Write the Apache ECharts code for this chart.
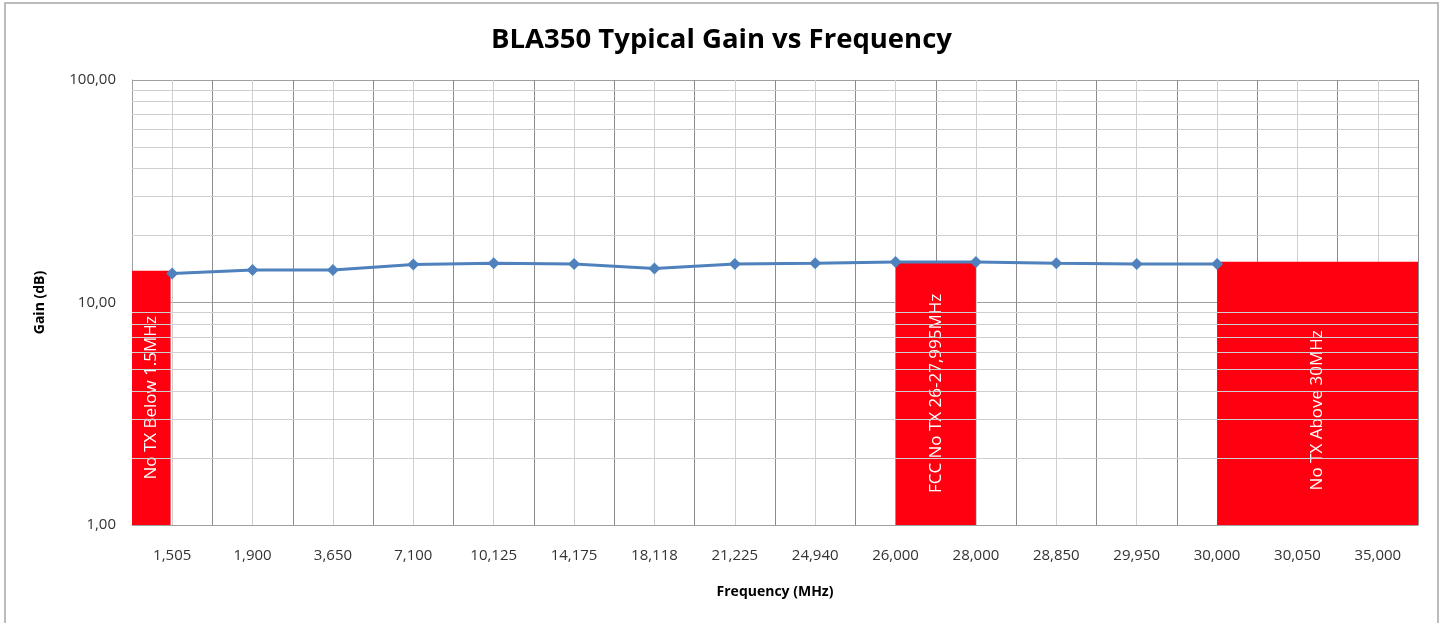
<!DOCTYPE html>
<html>
<head>
<meta charset="utf-8">
<script src="https://cdn.jsdelivr.net/npm/echarts@6/dist/echarts.min.js"></script>
<style>
html,body{margin:0;padding:0;background:#fff;}
#chart{width:1443px;height:623px;}
</style>
</head>
<body>
<div id="chart"></div>
<script>
// ---- data ----
const categories = ['1,505','1,900','3,650','7,100','10,125','14,175','18,118','21,225','24,940','26,000','28,000','28,850','29,950','30,000','30,050','35,000'];
const gainValues = [13.5, 14.0, 14.0, 14.8, 15.0, 14.9, 14.2, 14.9, 15.0, 15.2, 15.2, 15.0, 14.9, 14.9, null, null];
const yTickValues = [1, 10, 100];
const yTickLabels = ['1,00', '10,00', '100,00'];
const yMinorValues = [2,3,4,5,6,7,8,9,20,30,40,50,60,70,80,90];
// red bands: [start position, end position] on the category slot scale (0..16), top gain value
const bandLabels = ['No TX Below 1.5MHz', 'FCC No TX 26-27,995MHz', 'No TX Above 30MHz'];
const bandStart = [0, 9.5, 13.5];
const bandEnd = [0.48, 10.5, 16];
const bandTop = [13.9, 15.25, 15.25];

const chart = echarts.init(document.getElementById('chart'));
const FONT = '"Open Sans", sans-serif';

const bandData = bandLabels.map((name, i) => [
  i === 2
    ? { name: name, coord: [bandStart[i], 1], label: { offset: [-17, 0] } }
    : { name: name, coord: [bandStart[i], 1] },
  { coord: [bandEnd[i], bandTop[i]] }
]);

chart.setOption({
  animation: false,
  graphic: [{
    type: 'rect', z: -10, silent: true,
    shape: { x: 5, y: 3, width: 1433, height: 640 },
    style: { fill: 'none', stroke: '#a6a6a6', lineWidth: 1.5 }
  }],
  title: {
    text: 'BLA350 Typical Gain vs Frequency',
    left: 'center', top: 21,
    textStyle: { fontFamily: FONT, fontWeight: 'bold', fontSize: 27.5, color: '#000' }
  },
  grid: { left: 132, top: 80, right: 25, bottom: 98 },
  xAxis: [{
    type: 'category',
    data: categories,
    boundaryGap: true,
    axisLine: { show: true, lineStyle: { color: '#a0a0a0', width: 1 } },
    axisTick: { show: false },
    axisLabel: { margin: 23, fontFamily: FONT, fontSize: 15, color: '#333' },
    splitLine: { show: false },
    name: 'Frequency (MHz)',
    nameLocation: 'middle',
    nameGap: 60,
    nameTextStyle: { fontFamily: FONT, fontWeight: 'bold', fontSize: 14, color: '#000' }
  }, {
    type: 'value',
    min: 0, max: 16, interval: 0.5,
    position: 'bottom',
    axisLine: { show: false },
    axisTick: { show: false },
    axisLabel: { show: false },
    splitLine: { show: true, lineStyle: { color: ['#8c8c8c', '#cfcfcf'], width: 1 } }
  }],
  yAxis: {
    type: 'log',
    logBase: 10,
    min: 1, max: 100,
    axisLine: { show: true, lineStyle: { color: '#a0a0a0' } },
    axisTick: { show: false },
    axisLabel: {
      margin: 16, fontFamily: FONT, fontSize: 15, color: '#333',
      formatter: v => { const i = yTickValues.findIndex(t => Math.abs(t - v) < 1e-6); return i >= 0 ? yTickLabels[i] : ''; }
    },
    splitLine: { show: true, lineStyle: { color: '#a0a0a0', width: 1 } },
    name: 'Gain (dB)',
    nameLocation: 'middle',
    nameRotate: 90,
    nameGap: 85,
    nameTextStyle: { fontFamily: FONT, fontWeight: 'bold', fontSize: 14, color: '#000' }
  },
  series: [{
    type: 'line',
    xAxisIndex: 1,
    data: [],
    z: 1,
    silent: true,
    markLine: {
      silent: true, symbol: 'none', animation: false,
      label: { show: false },
      lineStyle: { color: '#cfcfcf', type: 'solid', width: 1 },
      emphasis: { disabled: true },
      data: yMinorValues.map(v => ({ yAxis: v }))
    }
  }, {
    type: 'line',
    xAxisIndex: 1,
    data: [],
    z: 3,
    silent: true,
    markArea: {
      silent: true,
      itemStyle: { color: '#ff0010', opacity: 1 },
      label: {
        show: true, position: 'inside', rotate: 90,
        color: '#fff', fontFamily: FONT, fontSize: 17
      },
      emphasis: { disabled: true },
      data: bandData
    }
  }, {
    type: 'line',
    xAxisIndex: 0,
    data: gainValues,
    z: 5,
    symbol: 'diamond',
    symbolSize: 12,
    connectNulls: false,
    lineStyle: { color: '#4f81bd', width: 3 },
    itemStyle: { color: '#4f81bd' }
  }]
});
</script>
</body>
</html>
